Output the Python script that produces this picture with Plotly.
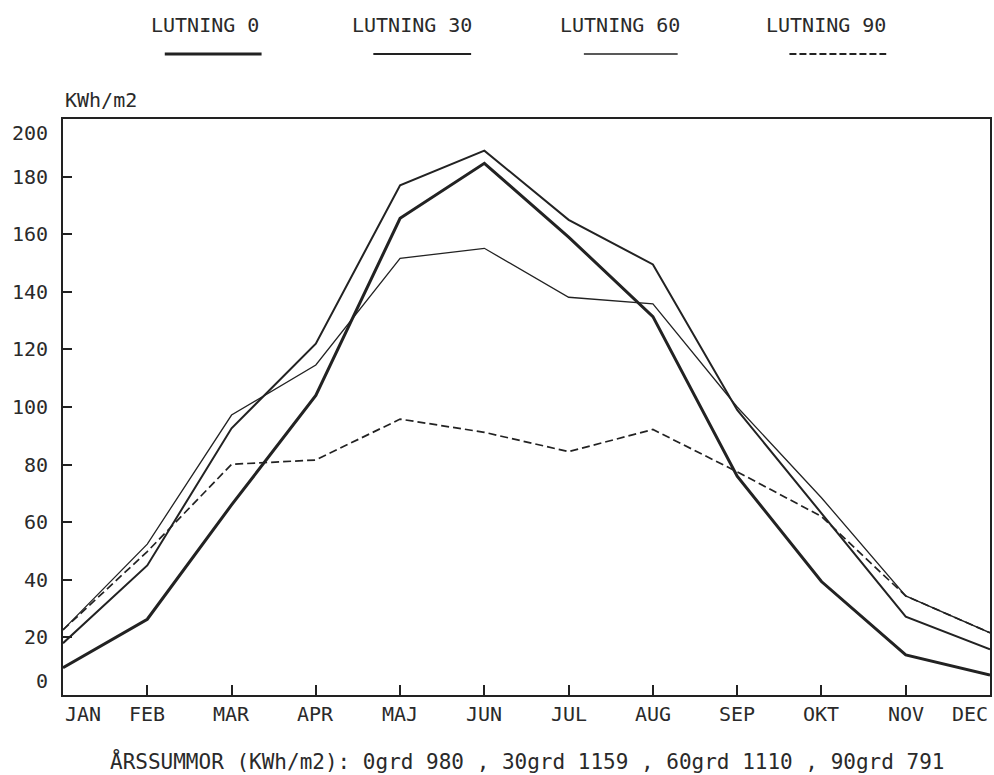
import plotly.graph_objects as go

months = ["JAN", "FEB", "MAR", "APR", "MAJ", "JUN", "JUL", "AUG", "SEP", "OKT", "NOV", "DEC"]
lutning_0 = [9.5, 26.3, 66, 104, 165.5, 184.6, 159, 131.4, 76, 39.4, 13.9, 6.9]
lutning_30 = [18, 45, 92.6, 122, 177, 189, 165, 149.5, 99, 63, 27.2, 15.9]
lutning_60 = [22.6, 52.4, 97.2, 114.6, 151.6, 155.1, 138.1, 135.8, 100, 68.5, 34.4, 21.6]
lutning_90 = [22.6, 49.8, 80.1, 81.6, 95.8, 91.2, 84.5, 92.2, 77.5, 62, 34.4, 21.6]
series_names = ["LUTNING 0", "LUTNING 30", "LUTNING 60", "LUTNING 90"]
y_ticks = [0, 20, 40, 60, 80, 100, 120, 140, 160, 180, 200]
y_title = "KWh/m2"
footer = "ÅRSSUMMOR (KWh/m2): 0grd 980 , 30grd 1159 , 60grd 1110 , 90grd 791"

INK = "#222222"
TXT = "#2a2a2a"
FONT = "DejaVu Sans Mono"
FS = 20
styles = [
    dict(width=3.0, dash="solid"),
    dict(width=2.0, dash="solid"),
    dict(width=1.3, dash="solid"),
    dict(width=1.7, dash="8px,4px"),
]
all_series = [lutning_0, lutning_30, lutning_60, lutning_90]
x_idx = list(range(len(months)))

fig = go.Figure()
for name, vals, st in zip(series_names, all_series, styles):
    fig.add_trace(go.Scatter(x=x_idx, y=vals, mode="lines", name=name,
                             line=dict(color=INK, width=st["width"], dash=st["dash"]),
                             showlegend=False))

annotations = []
# month labels
for i, m in enumerate(months):
    if i == 0:
        xa = "left"
    elif i == len(months) - 1:
        xa = "right"
    else:
        xa = "center"
    annotations.append(dict(x=i, y=0, xref="x", yref="paper", text=m, showarrow=False,
                            xanchor=xa, yanchor="top", yshift=-5,
                            font=dict(family=FONT, size=FS, color=TXT)))
# y labels
for v in y_ticks:
    if v == max(y_ticks):
        ya = "top"
    elif v == min(y_ticks):
        ya = "bottom"
    else:
        ya = "middle"
    annotations.append(dict(x=0, y=v, xref="paper", yref="y", text=str(v), showarrow=False,
                            xanchor="right", yanchor=ya, xshift=-13,
                            font=dict(family=FONT, size=FS, color=TXT)))
# y title
annotations.append(dict(x=0, y=1, xref="paper", yref="paper", text=y_title, showarrow=False,
                        xanchor="left", yanchor="bottom", yshift=5,
                        font=dict(family=FONT, size=FS, color=TXT)))
# footer
annotations.append(dict(x=0.5, y=0, xref="paper", yref="paper", text=footer, showarrow=False,
                        xanchor="center", yanchor="middle", yshift=-66,
                        font=dict(family=FONT, size=21, color=TXT)))

# custom legend: text above, line sample below (pixel positions within the 994 wide page)
legend_text_x = [205, 413, 621, 828]
legend_line_x = [(165, 262), (374, 472), (585, 679), (791, 888)]
W, H = 994, 775
ml, mr, mt, mb = 63, 2, 119, 80
pw, ph = W - ml - mr, H - mt - mb

def px_to_paper_x(px):
    return (px - ml) / pw

def py_to_paper_y(py):
    return (H - mb - py) / ph

shapes = []
for name, st, tx, (x0, x1) in zip(series_names, styles, legend_text_x, legend_line_x):
    annotations.append(dict(x=px_to_paper_x(tx), y=py_to_paper_y(25), xref="paper", yref="paper",
                            text=name, showarrow=False,
                            xanchor="center", yanchor="middle",
                            font=dict(family=FONT, size=FS, color=TXT)))
    solid = st["dash"] == "solid"
    shapes.append(dict(type="line", xref="paper", yref="paper",
                       x0=px_to_paper_x(x0), x1=px_to_paper_x(x1),
                       y0=py_to_paper_y(54), y1=py_to_paper_y(54),
                       line=dict(color=INK, width=st["width"] if solid else 2,
                                 dash="solid" if solid else "7px,3px")))

fig.update_layout(
    width=W, height=H,
    margin=dict(l=ml, r=mr, t=mt, b=mb, pad=0),
    paper_bgcolor="white", plot_bgcolor="white",
    font=dict(family=FONT, size=FS, color=TXT),
    annotations=annotations,
    shapes=shapes,
    showlegend=False,
)
fig.update_xaxes(range=[0, len(months) - 1], showgrid=False, zeroline=False,
                 showline=True, linecolor=INK, linewidth=2, mirror=True,
                 ticks="inside", ticklen=10, tickwidth=1.5, tickcolor=INK,
                 tickvals=x_idx[1:-1], showticklabels=False)
fig.update_yaxes(range=[min(y_ticks), max(y_ticks)], showgrid=False, zeroline=False,
                 showline=True, linecolor=INK, linewidth=2, mirror=True,
                 ticks="inside", ticklen=9, tickwidth=1.5, tickcolor=INK,
                 tickvals=y_ticks[1:-1], showticklabels=False)

fig.write_html("out.html",
               config={"displayModeBar": False},
               post_script="document.body.style.margin='0';document.body.style.padding='0';"
                           "document.body.style.overflow='hidden';")
